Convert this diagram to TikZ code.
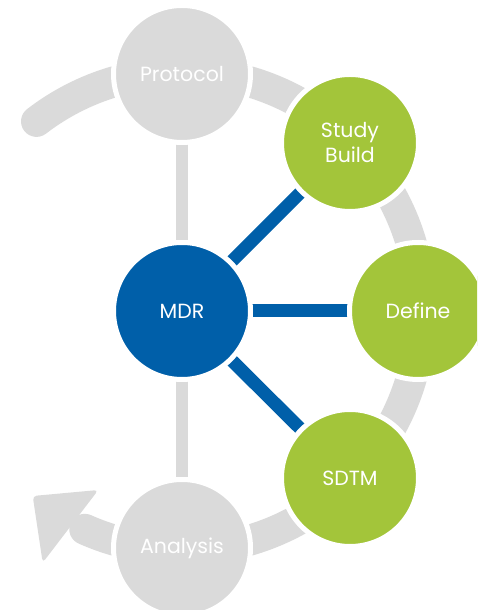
\documentclass[tikz,border=0pt]{standalone}
\usepackage{fontspec}
\setmainfont{Poppins}
\usetikzlibrary{backgrounds}
\definecolor{cyclegray}{HTML}{DADADA}
\definecolor{stepgreen}{HTML}{A3C53A}
\definecolor{mdrblue}{HTML}{005FA9}
\tikzset{
  stage/.style={circle, draw=white, line width=5pt, minimum size=137pt, inner sep=0pt,
    text=white, align=center, font=\fontsize{20.5}{25}\selectfont},
  grayst/.style={stage, fill=cyclegray},
  greenst/.style={stage, fill=stepgreen},
  bluest/.style={stage, fill=mdrblue},
  link/.style={draw=mdrblue, line width=13pt},
  spine/.style={draw=cyclegray, line width=12pt},
  cycle band/.style={draw=cyclegray, line width=31pt, line cap=round},
}
\begin{document}
\begin{tikzpicture}[x=1pt, y=1pt]
\useasboundingbox (0,0) rectangle (477,610);
\clip (0,0) rectangle (477,610);

% stages of the cycle
\node[grayst]  (protocol) at (182,536) {Protocol};
\node[greenst] (study)    at (350,467) {Study\\Build};
\node[bluest]  (mdr)      at (182,299) {MDR};
\node[greenst] (define)   at (418,299) {Define};
\node[greenst] (sdtm)     at (350,132) {SDTM};
\node[grayst]  (analysis) at (182,62)  {Analysis};

\begin{pgfonlayer}{background}
  % outer cycle band with its arrow head
  \draw[cycle band] (mdr.center) ++(127.5:239) arc[start angle=127.5, end angle=-114, radius=239];
  \fill[cyclegray, rounded corners=4pt] (98.3,120) -- (32.7,114) -- (42.7,47.3) -- cycle;
  % vertical spine from protocol to analysis
  \draw[spine] (protocol.center) -- (analysis.center);
  % MDR feeds the three green stages
  \draw[link] (mdr.center) -- (study.center);
  \draw[link] (mdr.center) -- (define.center);
  \draw[link] (mdr.center) -- (sdtm.center);
\end{pgfonlayer}
\end{tikzpicture}
\end{document}
